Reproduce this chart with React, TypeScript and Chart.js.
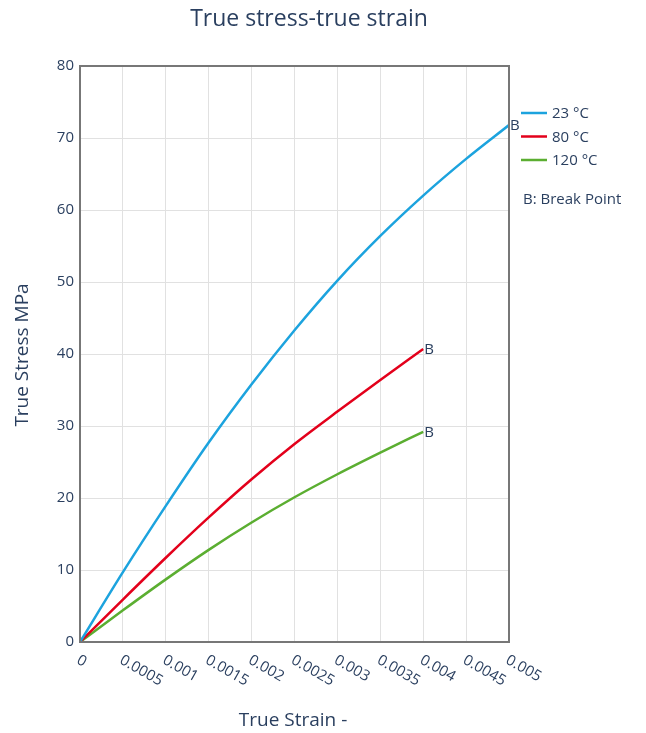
import React, { useEffect, useRef } from "react";
import { Chart, registerables } from "chart.js";

Chart.register(...registerables);

const strain = [0, 0.0005, 0.001, 0.0015, 0.002, 0.0025, 0.003, 0.0035, 0.004, 0.0045, 0.005];
const stress23 = [0, 9.7, 18.9, 27.7, 35.8, 43.3, 50.2, 56.4, 62.0, 67.1, 71.8];
const stress80 = [0, 5.9, 11.7, 17.3, 22.6, 27.5, 32.0, 36.4, 40.7];
const stress120 = [0, 4.4, 8.7, 12.8, 16.6, 20.1, 23.3, 26.3, 29.2];
const seriesLabels = ["23 °C", "80 °C", "120 °C"];
const seriesColors = ["#1CA3DE", "#E3001B", "#5BAE31"];
const xTickLabels = ["0", "0.0005", "0.001", "0.0015", "0.002", "0.0025", "0.003", "0.0035", "0.004", "0.0045", "0.005"];
const xTickValues = [0, 0.0005, 0.001, 0.0015, 0.002, 0.0025, 0.003, 0.0035, 0.004, 0.0045, 0.005];
const titleText = "True stress-true strain";
const xTitle = "True Strain -";
const yTitle = "True Stress MPa";
const noteText = "B: Break Point";
const breakLabel = "B";

const FONT = "'Open Sans', sans-serif";
const TEXT = "#2a3f5f";

export default function App() {
  const ref = useRef<HTMLCanvasElement | null>(null);
  useEffect(() => {
    const toPts = (ys: number[]) => ys.map((y, i) => ({ x: strain[i], y }));
    const series = [stress23, stress80, stress120];
    const overlay = {
      id: "overlay",
      afterDraw(chart: any) {
        const ctx = chart.ctx;
        const { left, right, top, bottom } = chart.chartArea;
        const xs = chart.scales.x;
        const ys = chart.scales.y;
        ctx.save();
        // border
        ctx.strokeStyle = "#777";
        ctx.lineWidth = 2;
        ctx.strokeRect(left, top, right - left, bottom - top);
        // title
        ctx.fillStyle = TEXT;
        ctx.font = `23px ${FONT}`;
        ctx.textAlign = "center";
        ctx.textBaseline = "middle";
        ctx.fillText(titleText, 309, 19);
        // axis titles
        ctx.font = `19px ${FONT}`;
        ctx.fillText(xTitle, 293, 721);
        ctx.save();
        ctx.translate(23, 355);
        ctx.rotate(-Math.PI / 2);
        ctx.fillText(yTitle, 0, 0);
        ctx.restore();
        // x tick labels rotated
        ctx.font = `15px ${FONT}`;
        ctx.textAlign = "left";
        ctx.textBaseline = "middle";
        xTickValues.forEach((v, i) => {
          const px = xs.getPixelForValue(v);
          ctx.save();
          ctx.translate(px - 2, bottom + 17);
          ctx.rotate(Math.PI / 6);
          ctx.fillText(xTickLabels[i], 0, 0);
          ctx.restore();
        });
        // break labels
        ctx.font = `15px ${FONT}`;
        series.forEach((s) => {
          const last = s.length - 1;
          const px = xs.getPixelForValue(strain[last]);
          const py = ys.getPixelForValue(s[last]);
          ctx.fillText(breakLabel, px + 1, py + 1);
        });
        // legend
        ctx.font = `15px ${FONT}`;
        seriesLabels.forEach((lab, i) => {
          const y = 113 + i * 23.5;
          ctx.strokeStyle = seriesColors[i];
          ctx.lineWidth = 2.5;
          ctx.beginPath();
          ctx.moveTo(521, y);
          ctx.lineTo(547, y);
          ctx.stroke();
          ctx.fillStyle = TEXT;
          ctx.fillText(lab, 552, y + 1);
        });
        ctx.fillText(noteText, 523, 200);
        ctx.restore();
      },
    };
    const chart = new Chart(ref.current!, {
      type: "line",
      data: {
        datasets: series.map((s, i) => ({
          label: seriesLabels[i],
          data: toPts(s),
          borderColor: seriesColors[i],
          backgroundColor: seriesColors[i],
          borderWidth: 2.5,
          pointRadius: 0,
          cubicInterpolationMode: "monotone",
          fill: false,
        })),
      },
      options: {
        animation: false,
        responsive: false,
        maintainAspectRatio: false,
        layout: { padding: { left: 0, top: 66, right: 137, bottom: 0 } },
        plugins: { legend: { display: false }, title: { display: false }, tooltip: { enabled: false } },
        scales: {
          x: {
            type: "linear",
            min: 0,
            max: 0.005,
            border: { display: false },
            grid: { color: "#e1e1e1", lineWidth: 1, drawTicks: false },
            ticks: { display: false, stepSize: 0.0005 },
            afterFit: (s: any) => { s.height = 91; },
          },
          y: {
            min: 0,
            max: 80,
            border: { display: false },
            grid: { color: "#e1e1e1", lineWidth: 1, drawTicks: false },
            ticks: { stepSize: 10, padding: 6, color: TEXT, font: { family: FONT, size: 15 } },
            afterFit: (s: any) => { s.width = 80; },
          },
        },
      },
      plugins: [overlay],
    } as any);
    return () => chart.destroy();
  }, []);
  return (
    <div style={{ position: "absolute", left: 0, top: 0, width: 646, height: 733, background: "#fff" }}>
      <canvas ref={ref} width={646} height={733} style={{ width: 646, height: 733, display: "block" }} />
    </div>
  );
}
